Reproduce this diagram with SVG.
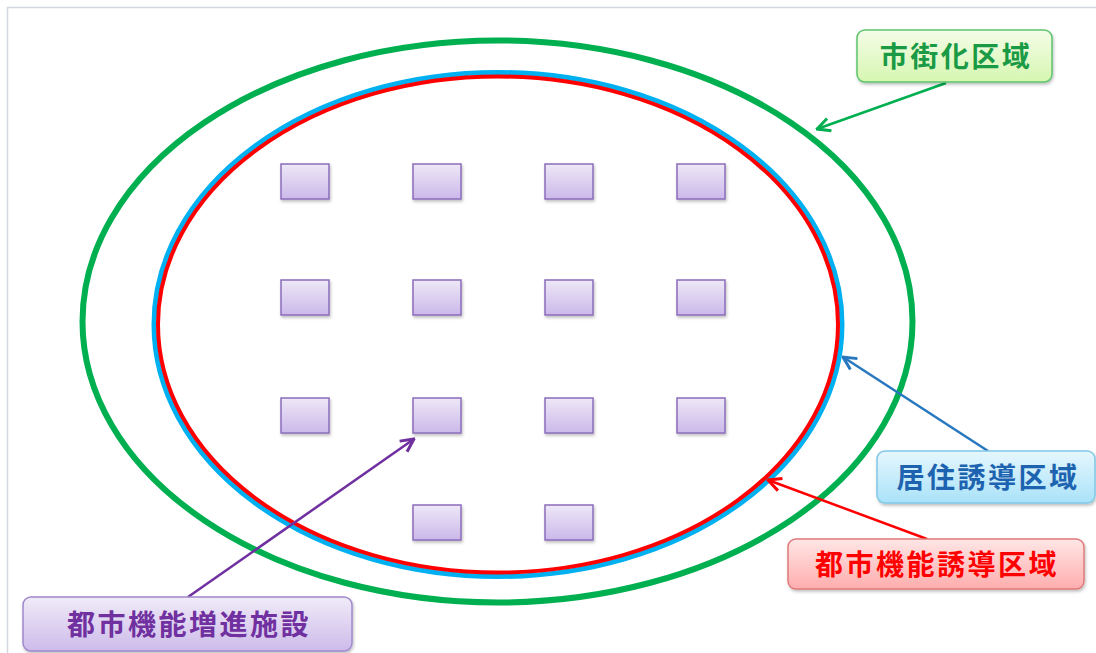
<svg xmlns="http://www.w3.org/2000/svg" width="1096" height="653" viewBox="0 0 1096 653">
<defs>
<linearGradient id="gFac" x1="0" y1="0" x2="0" y2="1"><stop offset="0" stop-color="#eee8f7"/><stop offset="1" stop-color="#cbb8ea"/></linearGradient>
<linearGradient id="gGreen" x1="0" y1="0" x2="0" y2="1"><stop offset="0" stop-color="#f4fde8"/><stop offset="1" stop-color="#d6f6b0"/></linearGradient>
<linearGradient id="gBlue" x1="0" y1="0" x2="0" y2="1"><stop offset="0" stop-color="#e6f7fe"/><stop offset="1" stop-color="#a9e2f8"/></linearGradient>
<linearGradient id="gRed" x1="0" y1="0" x2="0" y2="1"><stop offset="0" stop-color="#ffe6e6"/><stop offset="1" stop-color="#ffadad"/></linearGradient>
<linearGradient id="gPur" x1="0" y1="0" x2="0" y2="1"><stop offset="0" stop-color="#f0ebf8"/><stop offset="1" stop-color="#cdbbea"/></linearGradient>
<filter id="sh" x="-10%" y="-10%" width="125%" height="140%"><feDropShadow dx="1" dy="2" stdDeviation="1.5" flood-color="#000" flood-opacity="0.25"/></filter>
<marker id="aG" viewBox="0 0 16 16" refX="14.5" refY="8" markerWidth="16" markerHeight="16" markerUnits="userSpaceOnUse" orient="auto"><path d="M1.5,1.5 L14.5,8 L1.5,14.5" fill="none" stroke="#00b050" stroke-width="3"/></marker>
<marker id="aB" viewBox="0 0 16 16" refX="14.5" refY="8" markerWidth="16" markerHeight="16" markerUnits="userSpaceOnUse" orient="auto"><path d="M1.5,1.5 L14.5,8 L1.5,14.5" fill="none" stroke="#2878c0" stroke-width="3"/></marker>
<marker id="aR" viewBox="0 0 16 16" refX="14.5" refY="8" markerWidth="16" markerHeight="16" markerUnits="userSpaceOnUse" orient="auto"><path d="M1.5,1.5 L14.5,8 L1.5,14.5" fill="none" stroke="#ff0000" stroke-width="3"/></marker>
<marker id="aP" viewBox="0 0 16 16" refX="14.5" refY="8" markerWidth="16" markerHeight="16" markerUnits="userSpaceOnUse" orient="auto"><path d="M1.5,1.5 L14.5,8 L1.5,14.5" fill="none" stroke="#7030a0" stroke-width="3"/></marker>
</defs>
<style>
.fac{fill:url(#gFac);stroke:#8b6cbb;stroke-width:1.5;filter:url(#sh)}
.lbl{font-family:"Noto Sans CJK JP","Noto Sans CJK SC",sans-serif;font-weight:bold;font-size:28px;letter-spacing:2.5px;text-anchor:middle}
.ln{stroke-width:2.5;fill:none}
</style>
<rect width="1096" height="653" fill="#ffffff"/>
<path d="M7.5,653 V7.5 H1096" fill="none" stroke="#d3d8de" stroke-width="1.5"/>

<g id="zones">
<ellipse id="shigaika" cx="497.5" cy="321.5" rx="415" ry="281" fill="none" stroke="#00b050" stroke-width="6"/>
<ellipse id="kyoju" cx="498" cy="324.5" rx="344" ry="252" fill="none" stroke="#00b0f0" stroke-width="5"/>
<ellipse id="toshikino" cx="498" cy="324.5" rx="340" ry="248" fill="none" stroke="#ff0000" stroke-width="4"/>
</g>

<g id="facilities">
<rect class="fac" x="281" y="164" width="48" height="35"/>
<rect class="fac" x="413" y="164" width="48" height="35"/>
<rect class="fac" x="545" y="164" width="48" height="35"/>
<rect class="fac" x="677" y="164" width="48" height="35"/>
<rect class="fac" x="281" y="280" width="48" height="35"/>
<rect class="fac" x="413" y="280" width="48" height="35"/>
<rect class="fac" x="545" y="280" width="48" height="35"/>
<rect class="fac" x="677" y="280" width="48" height="35"/>
<rect class="fac" x="281" y="398" width="48" height="35"/>
<rect class="fac" x="413" y="398" width="48" height="35"/>
<rect class="fac" x="545" y="398" width="48" height="35"/>
<rect class="fac" x="677" y="398" width="48" height="35"/>
<rect class="fac" x="413" y="505" width="48" height="35"/>
<rect class="fac" x="545" y="505" width="48" height="35"/>
</g>

<g id="connectors">
<line class="ln" x1="946" y1="83" x2="817" y2="129" stroke="#00b050" marker-end="url(#aG)"/>
<line class="ln" x1="988" y1="451" x2="843" y2="357" stroke="#2878c0" marker-end="url(#aB)"/>
<line class="ln" x1="927" y1="539" x2="768" y2="480" stroke="#ff0000" marker-end="url(#aR)"/>
<line class="ln" x1="188" y1="597" x2="414" y2="439" stroke="#7030a0" marker-end="url(#aP)"/>
</g>

<g id="label-shigaika">
<rect x="857" y="30" width="195" height="52" rx="8" fill="url(#gGreen)" stroke="#5cc46c" stroke-width="1.5" filter="url(#sh)"/>
<text class="lbl" x="956" y="67" fill="#1a9a45">市街化区域</text>
</g>
<g id="label-kyoju">
<rect x="877" y="451" width="218" height="52" rx="8" fill="url(#gBlue)" stroke="#80c8e6" stroke-width="1.5" filter="url(#sh)"/>
<text class="lbl" x="988" y="488" fill="#1d63b0">居住誘導区域</text>
</g>
<g id="label-toshikino">
<rect x="788" y="539" width="296" height="50" rx="8" fill="url(#gRed)" stroke="#e07a7a" stroke-width="1.5" filter="url(#sh)"/>
<text class="lbl" x="937" y="575" fill="#ff0000">都市機能誘導区域</text>
</g>
<g id="label-shisetsu">
<rect x="23" y="597" width="329" height="54" rx="8" fill="url(#gPur)" stroke="#a088cc" stroke-width="1.5" filter="url(#sh)"/>
<text class="lbl" x="189" y="635" fill="#7030a0">都市機能増進施設</text>
</g>
</svg>
